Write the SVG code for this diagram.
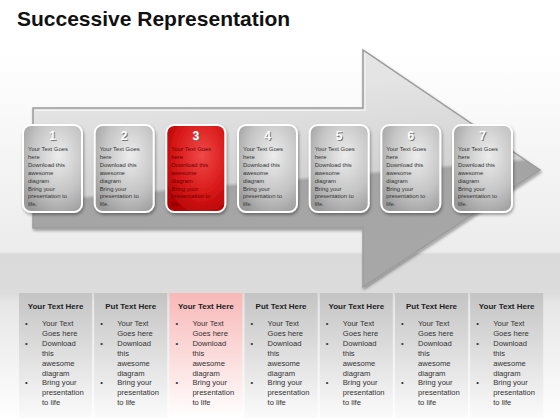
<svg xmlns="http://www.w3.org/2000/svg" width="560" height="420" viewBox="0 0 560 420">
<defs>
  <linearGradient id="bg" x1="0" y1="0" x2="0" y2="1">
    <stop offset="0" stop-color="#ffffff"/>
    <stop offset="0.12" stop-color="#ffffff"/>
    <stop offset="0.6" stop-color="#ececec"/>
    <stop offset="0.605" stop-color="#dadada"/>
    <stop offset="0.7" stop-color="#dcdcdc"/>
    <stop offset="0.72" stop-color="#e6e6e6"/>
    <stop offset="1" stop-color="#ffffff"/>
  </linearGradient>
  <linearGradient id="arrowFill" gradientUnits="userSpaceOnUse" x1="280" y1="88" x2="297" y2="288">
    <stop offset="0" stop-color="#e4e4e4"/>
    <stop offset="0.45" stop-color="#d2d2d2"/>
    <stop offset="0.47" stop-color="#a4a4a4"/>
    <stop offset="1" stop-color="#a8a8a8"/>
  </linearGradient>
  <radialGradient id="cardGray" cx="0.6" cy="0.35" r="0.75">
    <stop offset="0" stop-color="#ececec"/>
    <stop offset="0.6" stop-color="#c4c4c4"/>
    <stop offset="1" stop-color="#9a9a9a"/>
  </radialGradient>
  <radialGradient id="cardRed" cx="0.6" cy="0.35" r="0.75">
    <stop offset="0" stop-color="#f04848"/>
    <stop offset="0.6" stop-color="#d81818"/>
    <stop offset="1" stop-color="#b00000"/>
  </radialGradient>
  <linearGradient id="colGray" x1="0" y1="0" x2="0" y2="1">
    <stop offset="0" stop-color="#c4c4c4"/>
    <stop offset="1" stop-color="#fbfbfb"/>
  </linearGradient>
  <linearGradient id="colPink" x1="0" y1="0" x2="0" y2="1">
    <stop offset="0" stop-color="#f8b8b8"/>
    <stop offset="1" stop-color="#ffffff"/>
  </linearGradient>
  <filter id="shadow" x="-10%" y="-10%" width="130%" height="130%">
    <feDropShadow dx="1" dy="2" stdDeviation="1.5" flood-color="#000" flood-opacity="0.35"/>
  </filter>
</defs>
<style>
  .title { font-family: "Liberation Sans", Arial, sans-serif; font-weight: bold; font-size: 21px; fill: #111; }
  .card { stroke: #ffffff; stroke-width: 2; filter: url(#shadow); }
  .num { font-family: "Liberation Sans", Arial, sans-serif; font-weight: bold; font-size: 12px; fill: #ffffff; text-anchor: middle; }
  .numsh { font-family: "Liberation Sans", Arial, sans-serif; font-weight: bold; font-size: 12px; fill: #777; text-anchor: middle; }
  .ct { font-family: "Liberation Sans", Arial, sans-serif; font-size: 5.9px; fill: #333; }
  .ctr { font-family: "Liberation Sans", Arial, sans-serif; font-size: 5.9px; fill: #6a0000; }
  .hd { font-family: "Liberation Sans", Arial, sans-serif; font-weight: bold; font-size: 8px; fill: #222; text-anchor: middle; }
  .bt { font-family: "Liberation Sans", Arial, sans-serif; font-size: 7.6px; fill: #333; }
</style>
<rect x="0" y="0" width="560" height="420" fill="url(#bg)"/>
<text class="title" x="17" y="26">Successive Representation</text>

<g id="arrow">
  <path d="M33,108 L363,108 L363,50 L540,170 L363,287 L363,228 L33,228 Z" fill="url(#arrowFill)" stroke="#9c9c9c" stroke-width="1.5" filter="url(#shadow)"/>
  <path d="M35,110.5 L365,110.5 L365,54" fill="none" stroke="#f4f4f4" stroke-width="1.2"/>
</g>

<g id="cards">
  <g id="card1">
    <rect class="card" x="23" y="125" width="59" height="87" rx="8" fill="url(#cardGray)"/>
    <text class="numsh" x="53.5" y="141">1</text><text class="num" x="52.5" y="140">1</text>
    <text class="ct" x="28" y="151"><tspan x="28">Your Text Goes</tspan><tspan x="28" dy="7.9">here</tspan><tspan x="28" dy="7.9">Download this</tspan><tspan x="28" dy="7.9">awesome</tspan><tspan x="28" dy="7.9">diagram</tspan><tspan x="28" dy="7.9">Bring your</tspan><tspan x="28" dy="7.9">presentation to</tspan><tspan x="28" dy="7.9">life.</tspan></text>
  </g>
  <g id="card2">
    <rect class="card" x="94.7" y="125" width="59" height="87" rx="8" fill="url(#cardGray)"/>
    <text class="numsh" x="125.2" y="141">2</text><text class="num" x="124.2" y="140">2</text>
    <text class="ct" x="99.7" y="151"><tspan x="99.7">Your Text Goes</tspan><tspan x="99.7" dy="7.9">here</tspan><tspan x="99.7" dy="7.9">Download this</tspan><tspan x="99.7" dy="7.9">awesome</tspan><tspan x="99.7" dy="7.9">diagram</tspan><tspan x="99.7" dy="7.9">Bring your</tspan><tspan x="99.7" dy="7.9">presentation to</tspan><tspan x="99.7" dy="7.9">life.</tspan></text>
  </g>
  <g id="card3">
    <rect class="card" x="166.3" y="125" width="59" height="87" rx="8" fill="url(#cardRed)"/>
    <text class="numsh" x="196.8" y="141" fill="#800000">3</text><text class="num" x="195.8" y="140">3</text>
    <text class="ctr" x="171.3" y="151"><tspan x="171.3">Your Text Goes</tspan><tspan x="171.3" dy="7.9">here</tspan><tspan x="171.3" dy="7.9">Download this</tspan><tspan x="171.3" dy="7.9">awesome</tspan><tspan x="171.3" dy="7.9">diagram</tspan><tspan x="171.3" dy="7.9">Bring your</tspan><tspan x="171.3" dy="7.9">presentation to</tspan><tspan x="171.3" dy="7.9">life.</tspan></text>
  </g>
  <g id="card4">
    <rect class="card" x="238" y="125" width="59" height="87" rx="8" fill="url(#cardGray)"/>
    <text class="numsh" x="268.5" y="141">4</text><text class="num" x="267.5" y="140">4</text>
    <text class="ct" x="243" y="151"><tspan x="243">Your Text Goes</tspan><tspan x="243" dy="7.9">here</tspan><tspan x="243" dy="7.9">Download this</tspan><tspan x="243" dy="7.9">awesome</tspan><tspan x="243" dy="7.9">diagram</tspan><tspan x="243" dy="7.9">Bring your</tspan><tspan x="243" dy="7.9">presentation to</tspan><tspan x="243" dy="7.9">life.</tspan></text>
  </g>
  <g id="card5">
    <rect class="card" x="309.7" y="125" width="59" height="87" rx="8" fill="url(#cardGray)"/>
    <text class="numsh" x="340.2" y="141">5</text><text class="num" x="339.2" y="140">5</text>
    <text class="ct" x="314.7" y="151"><tspan x="314.7">Your Text Goes</tspan><tspan x="314.7" dy="7.9">here</tspan><tspan x="314.7" dy="7.9">Download this</tspan><tspan x="314.7" dy="7.9">awesome</tspan><tspan x="314.7" dy="7.9">diagram</tspan><tspan x="314.7" dy="7.9">Bring your</tspan><tspan x="314.7" dy="7.9">presentation to</tspan><tspan x="314.7" dy="7.9">life.</tspan></text>
  </g>
  <g id="card6">
    <rect class="card" x="381.3" y="125" width="59" height="87" rx="8" fill="url(#cardGray)"/>
    <text class="numsh" x="411.8" y="141">6</text><text class="num" x="410.8" y="140">6</text>
    <text class="ct" x="386.3" y="151"><tspan x="386.3">Your Text Goes</tspan><tspan x="386.3" dy="7.9">here</tspan><tspan x="386.3" dy="7.9">Download this</tspan><tspan x="386.3" dy="7.9">awesome</tspan><tspan x="386.3" dy="7.9">diagram</tspan><tspan x="386.3" dy="7.9">Bring your</tspan><tspan x="386.3" dy="7.9">presentation to</tspan><tspan x="386.3" dy="7.9">life.</tspan></text>
  </g>
  <g id="card7">
    <rect class="card" x="453" y="125" width="59" height="87" rx="8" fill="url(#cardGray)"/>
    <text class="numsh" x="483.5" y="141">7</text><text class="num" x="482.5" y="140">7</text>
    <text class="ct" x="458" y="151"><tspan x="458">Your Text Goes</tspan><tspan x="458" dy="7.9">here</tspan><tspan x="458" dy="7.9">Download this</tspan><tspan x="458" dy="7.9">awesome</tspan><tspan x="458" dy="7.9">diagram</tspan><tspan x="458" dy="7.9">Bring your</tspan><tspan x="458" dy="7.9">presentation to</tspan><tspan x="458" dy="7.9">life.</tspan></text>
  </g>
</g>

<g id="table">
  <g id="col1">
    <rect x="19" y="293" width="73" height="125" fill="url(#colGray)"/>
    <text class="hd" x="55.5" y="309">Your Text Here</text>
    <text class="bt" x="25" y="326">•</text><text class="bt" x="25" y="345.8">•</text><text class="bt" x="25" y="385.4">•</text>
    <text class="bt"><tspan x="42" y="326">Your Text</tspan><tspan x="42" dy="9.9">Goes here</tspan><tspan x="42" dy="9.9">Download</tspan><tspan x="42" dy="9.9">this</tspan><tspan x="42" dy="9.9">awesome</tspan><tspan x="42" dy="9.9">diagram</tspan><tspan x="42" dy="9.9">Bring your</tspan><tspan x="42" dy="9.9">presentation</tspan><tspan x="42" dy="9.9">to life</tspan></text>
  </g>
  <g id="col2">
    <rect x="94.2" y="293" width="73" height="125" fill="url(#colGray)"/>
    <text class="hd" x="130.7" y="309">Put Text Here</text>
    <text class="bt" x="100.2" y="326">•</text><text class="bt" x="100.2" y="345.8">•</text><text class="bt" x="100.2" y="385.4">•</text>
    <text class="bt"><tspan x="117.2" y="326">Your Text</tspan><tspan x="117.2" dy="9.9">Goes here</tspan><tspan x="117.2" dy="9.9">Download</tspan><tspan x="117.2" dy="9.9">this</tspan><tspan x="117.2" dy="9.9">awesome</tspan><tspan x="117.2" dy="9.9">diagram</tspan><tspan x="117.2" dy="9.9">Bring your</tspan><tspan x="117.2" dy="9.9">presentation</tspan><tspan x="117.2" dy="9.9">to life</tspan></text>
  </g>
  <g id="col3">
    <rect x="169.4" y="293" width="73" height="125" fill="url(#colPink)"/>
    <text class="hd" x="205.9" y="309">Your Text Here</text>
    <text class="bt" x="175.4" y="326">•</text><text class="bt" x="175.4" y="345.8">•</text><text class="bt" x="175.4" y="385.4">•</text>
    <text class="bt"><tspan x="192.4" y="326">Your Text</tspan><tspan x="192.4" dy="9.9">Goes here</tspan><tspan x="192.4" dy="9.9">Download</tspan><tspan x="192.4" dy="9.9">this</tspan><tspan x="192.4" dy="9.9">awesome</tspan><tspan x="192.4" dy="9.9">diagram</tspan><tspan x="192.4" dy="9.9">Bring your</tspan><tspan x="192.4" dy="9.9">presentation</tspan><tspan x="192.4" dy="9.9">to life</tspan></text>
  </g>
  <g id="col4">
    <rect x="244.6" y="293" width="73" height="125" fill="url(#colGray)"/>
    <text class="hd" x="281.1" y="309">Put Text Here</text>
    <text class="bt" x="250.6" y="326">•</text><text class="bt" x="250.6" y="345.8">•</text><text class="bt" x="250.6" y="385.4">•</text>
    <text class="bt"><tspan x="267.6" y="326">Your Text</tspan><tspan x="267.6" dy="9.9">Goes here</tspan><tspan x="267.6" dy="9.9">Download</tspan><tspan x="267.6" dy="9.9">this</tspan><tspan x="267.6" dy="9.9">awesome</tspan><tspan x="267.6" dy="9.9">diagram</tspan><tspan x="267.6" dy="9.9">Bring your</tspan><tspan x="267.6" dy="9.9">presentation</tspan><tspan x="267.6" dy="9.9">to life</tspan></text>
  </g>
  <g id="col5">
    <rect x="319.8" y="293" width="73" height="125" fill="url(#colGray)"/>
    <text class="hd" x="356.3" y="309">Your Text Here</text>
    <text class="bt" x="325.8" y="326">•</text><text class="bt" x="325.8" y="345.8">•</text><text class="bt" x="325.8" y="385.4">•</text>
    <text class="bt"><tspan x="342.8" y="326">Your Text</tspan><tspan x="342.8" dy="9.9">Goes here</tspan><tspan x="342.8" dy="9.9">Download</tspan><tspan x="342.8" dy="9.9">this</tspan><tspan x="342.8" dy="9.9">awesome</tspan><tspan x="342.8" dy="9.9">diagram</tspan><tspan x="342.8" dy="9.9">Bring your</tspan><tspan x="342.8" dy="9.9">presentation</tspan><tspan x="342.8" dy="9.9">to life</tspan></text>
  </g>
  <g id="col6">
    <rect x="395" y="293" width="73" height="125" fill="url(#colGray)"/>
    <text class="hd" x="431.5" y="309">Put Text Here</text>
    <text class="bt" x="401" y="326">•</text><text class="bt" x="401" y="345.8">•</text><text class="bt" x="401" y="385.4">•</text>
    <text class="bt"><tspan x="418" y="326">Your Text</tspan><tspan x="418" dy="9.9">Goes here</tspan><tspan x="418" dy="9.9">Download</tspan><tspan x="418" dy="9.9">this</tspan><tspan x="418" dy="9.9">awesome</tspan><tspan x="418" dy="9.9">diagram</tspan><tspan x="418" dy="9.9">Bring your</tspan><tspan x="418" dy="9.9">presentation</tspan><tspan x="418" dy="9.9">to life</tspan></text>
  </g>
  <g id="col7">
    <rect x="470.2" y="293" width="73" height="125" fill="url(#colGray)"/>
    <text class="hd" x="506.7" y="309">Your Text Here</text>
    <text class="bt" x="476.2" y="326">•</text><text class="bt" x="476.2" y="345.8">•</text><text class="bt" x="476.2" y="385.4">•</text>
    <text class="bt"><tspan x="493.2" y="326">Your Text</tspan><tspan x="493.2" dy="9.9">Goes here</tspan><tspan x="493.2" dy="9.9">Download</tspan><tspan x="493.2" dy="9.9">this</tspan><tspan x="493.2" dy="9.9">awesome</tspan><tspan x="493.2" dy="9.9">diagram</tspan><tspan x="493.2" dy="9.9">Bring your</tspan><tspan x="493.2" dy="9.9">presentation</tspan><tspan x="493.2" dy="9.9">to life</tspan></text>
  </g>
</g>
</svg>
